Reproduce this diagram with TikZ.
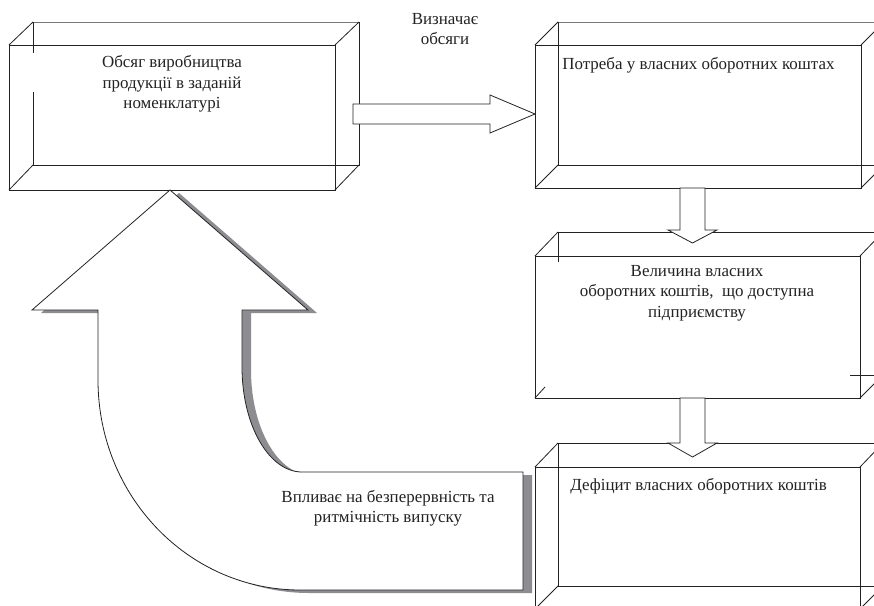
\documentclass[tikz,border=0pt]{standalone}
\usepackage{fontspec}
\setmainfont{Liberation Serif}
\definecolor{ink}{HTML}{222222}
\definecolor{backln}{HTML}{7A7A7A}
\definecolor{shadowc}{RGB}{140,140,145}
\newcommand\uarrowpath{(170,190) -- (308,310) -- (242,310) -- (242,367)
  arc[start angle=180, end angle=90, x radius=60, y radius=105]
  -- (523,472) -- (523,590) -- (300,590)
  arc[start angle=90, end angle=180, x radius=202, y radius=210]
  -- (98,310) -- (32,310) -- cycle}
\begin{document}
\begin{tikzpicture}[x=0.75pt,y=-0.75pt,line width=0.6pt,
  edge/.style={draw=ink},
  backtop/.style={draw=backln},
  face/.style={draw=ink, inner sep=0pt, outer sep=0pt},
  blockarrow/.style={draw=ink, fill=white, line join=miter},
  lbl/.style={font=\fontsize{12.7}{15.3}\selectfont, text=ink, inner sep=0pt, align=center}]
\useasboundingbox[fill=white] (0,0) rectangle (874,606);

% ---------- box 1 ----------
\draw[backtop] (33,22) -- (359,22);
\draw[edge] (33,22) -- (33,53) (33,92) -- (33,165) -- (359,165) -- (359,22);
\draw[edge] (9,45) -- (33,22) (335,45) -- (359,22) (9,190) -- (33,165) (335,190) -- (359,165);
\node[face, minimum width=244.5pt, minimum height=108.75pt] (b1) at (172,117.5) {};

% ---------- box 2 ----------
\draw[backtop] (558,22) -- (884,22);
\draw[edge] (558,22) -- (558,165) -- (884,165);
\draw[edge] (535,45) -- (558,22) (861,45) -- (884,22) (535,188) -- (558,165) (861,188) -- (884,165);
\node[face, minimum width=244.5pt, minimum height=107.25pt] (b2) at (698,116.5) {};

% ---------- box 3 ----------
\draw[edge] (558,232) -- (884,232);
\draw[edge] (558,232) -- (558,262);
\draw[edge] (535,256) -- (558,232) (860,256) -- (883,232) (860,398) -- (883,375) (535,398) -- (545,387);
\draw[edge] (850,375) -- (884,375);
\node[face, minimum width=243.75pt, minimum height=106.5pt] (b3) at (697.5,327) {};

% ---------- box 4 ----------
\draw[edge] (558,443) -- (884,443);
\draw[edge] (558,443) -- (558,586) -- (884,586);
\draw[edge] (535,467) -- (558,443) (860,467) -- (883,443) (535,609) -- (558,586) (860,609) -- (883,586);
\node[face, minimum width=243.75pt, minimum height=106.5pt] (b4) at (697.5,538) {};

% ---------- block arrows between boxes ----------
\draw[blockarrow] (353,104) -- (490,104) -- (490,95) -- (b2.west |- 0,114) -- (490,133) -- (490,124) -- (353,124) -- cycle;
\draw[blockarrow] (680,188) -- (680,230) -- (668,230) -- (692.5,243) -- (717,230) -- (705,230) -- (705,188) -- cycle;
\draw[blockarrow] (680,398) -- (680,443) -- (668,443) -- (692.5,457) -- (717,443) -- (705,443) -- (705,398) -- cycle;

% ---------- big U arrow ----------
\begin{scope}[shift={(9,3)}]
  \fill[shadowc] \uarrowpath;
\end{scope}
\draw[blockarrow] \uarrowpath;

% ---------- texts ----------
\node[lbl] (t1) at (172,84) {Обсяг виробництва\\продукції в заданій\\номенклатурі};
\node[lbl, anchor=base west] (t2) at (562,70) {Потреба у власних оборотних коштах};
\node[lbl] (t3) at (697,293) {Величина власних\\оборотних коштів,\ \ що доступна\\підприємству};
\node[lbl, anchor=base west] (t4) at (570,490) {Дефіцит власних оборотних коштів};
\node[lbl] (t5) at (445,29) {Визначає\\обсяги};
\node[lbl] (t6) at (388,508) {Впливає на безперервність та\\ритмічність випуску};
\end{tikzpicture}
\end{document}
